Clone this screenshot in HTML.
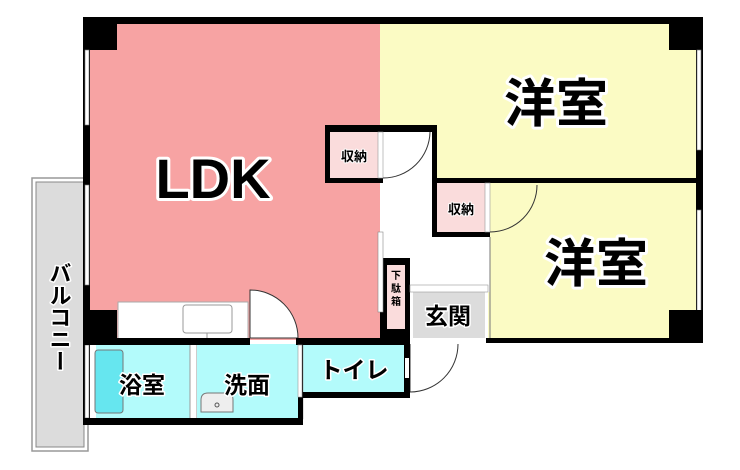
<!DOCTYPE html>
<html><head><meta charset="utf-8"><style>
html,body{margin:0;padding:0;background:#fff;width:740px;height:470px;overflow:hidden}
svg{display:block}
text{font-family:"Liberation Sans","Noto Sans CJK JP",sans-serif;font-weight:bold;paint-order:stroke;stroke:#fff;stroke-linejoin:round}
</style></head><body>
<svg width="740" height="470" viewBox="0 0 740 470" xmlns="http://www.w3.org/2000/svg">
<rect x="32" y="178" width="56" height="273" fill="#fff" stroke="#999" stroke-width="1.5"/>
<rect x="36" y="182" width="48" height="265" fill="#dcdcdc" stroke="#888" stroke-width="1"/>
<rect x="88" y="22" width="292" height="318" fill="#f7a3a3"/>
<rect x="380" y="22" width="322" height="158" fill="#fbfbc4"/>
<rect x="488" y="182" width="214" height="158" fill="#fbfbc4"/>
<rect x="380" y="130" width="54" height="162" fill="#fff"/>
<rect x="380" y="183" width="110" height="109" fill="#fff"/>
<rect x="410" y="290" width="78" height="50" fill="#fff"/>
<rect x="413" y="292" width="72" height="46" fill="#dcdcdc"/>
<rect x="118" y="302" width="130" height="37" fill="#fff" stroke="#aaa" stroke-width="1"/>
<rect x="183" y="305" width="49" height="28" rx="3" fill="#fff" stroke="#999"/>
<line x1="207" y1="333" x2="207" y2="338" stroke="#999"/>
<path d="M250 338 V290 A48 48 0 0 1 298 338 Z" fill="#fff" stroke="#333" stroke-width="1"/>
<rect x="90" y="344" width="100" height="75" fill="#b3fbfb"/>
<rect x="90" y="344" width="6" height="75" fill="#fff"/>
<rect x="95" y="350" width="28" height="63" rx="3" fill="#66e6ef" stroke="#777"/>
<rect x="190" y="344" width="7" height="75" fill="#fff" stroke="#999" stroke-width="1"/>
<rect x="197" y="344" width="101" height="75" fill="#b3fbfb"/>
<path d="M201 412 V400 Q201 393 208 393 H228 Q233 393 233 400 V412 Z" fill="#eee" stroke="#777"/>
<circle cx="217" cy="405" r="2" fill="none" stroke="#555"/>
<rect x="303" y="344" width="101" height="48" fill="#b3fbfb"/>
<rect x="299" y="344" width="4" height="75" fill="#fff" stroke="#999" stroke-width="0.6"/>
<path d="M410 344 V392 A48 48 0 0 0 458 344" fill="#fff" stroke="#333" stroke-width="1"/>
<rect x="325" y="125" width="112" height="7" fill="#000"/>
<rect x="325" y="125" width="5" height="58" fill="#000"/>
<rect x="325" y="178" width="58" height="5" fill="#000"/>
<rect x="330" y="132" width="48" height="46" fill="#fadcdc"/>
<rect x="378" y="132" width="5" height="46" fill="#fff" stroke="#999" stroke-width="0.6"/>
<path d="M383 178 A47 47 0 0 0 430 132" fill="none" stroke="#333"/>
<rect x="432" y="125" width="5" height="112" fill="#000"/>
<rect x="432" y="178" width="271" height="5" fill="#000"/>
<rect x="432" y="232" width="58" height="5" fill="#000"/>
<rect x="437" y="183" width="48" height="49" fill="#fadcdc"/>
<rect x="485" y="183" width="5" height="49" fill="#fff" stroke="#999" stroke-width="0.6"/>
<path d="M490 232 A47 47 0 0 0 537 185" fill="none" stroke="#333"/>
<line x1="490" y1="237" x2="490" y2="338" stroke="#777"/>
<rect x="380" y="258" width="30" height="84" fill="#000"/>
<rect x="387" y="265" width="18" height="64" fill="#fadcdc"/>
<rect x="378" y="232" width="5" height="80" fill="#fff" stroke="#888" stroke-width="0.6"/>
<rect x="410" y="285" width="78" height="7" fill="#fff" stroke="#999" stroke-width="0.6"/>
<rect x="83" y="17" width="620" height="7" fill="#000"/>
<rect x="83" y="17" width="34" height="33" fill="#000"/>
<rect x="669" y="17" width="34" height="33" fill="#000"/>
<rect x="83" y="17" width="7" height="408" fill="#000"/>
<rect x="85" y="50" width="4" height="75" fill="#fff" stroke="#777" stroke-width="0.6"/>
<rect x="85" y="185" width="4" height="100" fill="#fff" stroke="#777" stroke-width="0.6"/>
<rect x="85" y="345" width="4" height="73" fill="#fff" stroke="#777" stroke-width="0.6"/>
<rect x="83" y="310" width="34" height="30" fill="#000"/>
<rect x="696" y="17" width="7" height="326" fill="#000"/>
<rect x="697" y="50" width="4" height="100" fill="#fff" stroke="#777" stroke-width="0.6"/>
<rect x="697" y="210" width="4" height="102" fill="#fff" stroke="#777" stroke-width="0.6"/>
<rect x="669" y="310" width="34" height="33" fill="#000"/>
<rect x="83" y="338" width="167" height="7" fill="#000"/>
<rect x="296" y="338" width="114" height="7" fill="#000"/>
<rect x="486" y="338" width="217" height="5" fill="#000"/>
<rect x="83" y="418" width="220" height="7" fill="#000"/>
<rect x="298" y="345" width="5" height="80" fill="#000"/>
<rect x="298" y="345" width="4" height="52" fill="#fff" stroke="#999" stroke-width="0.6"/>
<rect x="303" y="392" width="107" height="6" fill="#000"/>
<rect x="404" y="338" width="6" height="60" fill="#000"/>
<rect x="405" y="358" width="4" height="20" fill="#fff"/>
<text x="213" y="198" font-size="56" text-anchor="middle" stroke-width="6">LDK</text>
<text x="556" y="122" font-size="52" text-anchor="middle" stroke-width="6">洋室</text>
<text x="596" y="282" font-size="52" text-anchor="middle" stroke-width="6">洋室</text>
<text x="354" y="161" font-size="13" text-anchor="middle" stroke-width="2">収納</text>
<text x="461" y="214" font-size="13" text-anchor="middle" stroke-width="2">収納</text>
<text x="396" y="279" font-size="10" text-anchor="middle" stroke-width="0">下</text>
<text x="396" y="292" font-size="10" text-anchor="middle" stroke-width="0">駄</text>
<text x="396" y="305" font-size="10" text-anchor="middle" stroke-width="0">箱</text>
<text x="448" y="324" font-size="23" text-anchor="middle" stroke-width="3">玄関</text>
<text x="142" y="393" font-size="23" text-anchor="middle" stroke-width="3">浴室</text>
<text x="247" y="393" font-size="23" text-anchor="middle" stroke-width="3">洗面</text>
<text x="354" y="378" font-size="23" text-anchor="middle" stroke-width="3">トイレ</text>
<text font-size="22" stroke-width="3" x="59" y="262" style="writing-mode:vertical-rl">バルコニー</text>
</svg>
</body></html>
